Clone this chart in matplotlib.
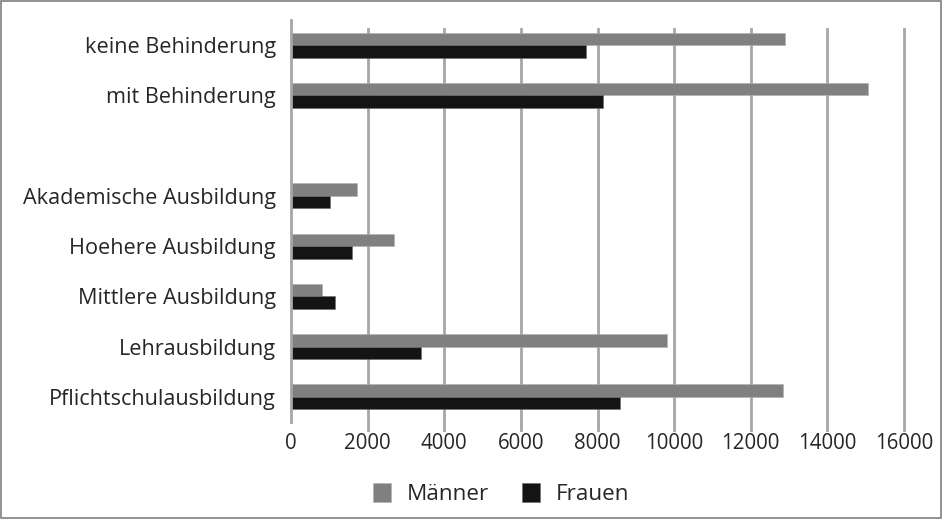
import matplotlib.pyplot as plt
import matplotlib.transforms as mtransforms
from matplotlib.patches import Rectangle
import numpy as np

plt.rcParams['font.family'] = ['Open Sans', 'DejaVu Sans']

# Kategorien von oben nach unten (leere Zeile als Trenner)
kategorien = ['keine Behinderung', 'mit Behinderung', '',
              'Akademische Ausbildung', 'Hoehere Ausbildung',
              'Mittlere Ausbildung', 'Lehrausbildung', 'Pflichtschulausbildung']
maenner = [12900, 15050, 0, 1720, 2700, 800, 9820, 12830]
frauen = [7710, 8150, 0, 1010, 1600, 1160, 3390, 8590]
x_ticks = [0, 2000, 4000, 6000, 8000, 10000, 12000, 14000, 16000]

fig = plt.figure(figsize=(9.42, 5.19), dpi=100)
ax = fig.add_axes([291/942, 1 - 422/519, 613/942, 402/519])

pos = np.arange(len(kategorien))
h = 0.25
ax.barh(pos - h/2, maenner, height=h, color='#808080', edgecolor='#b0b0b0',
        linewidth=0.4, label='Männer', zorder=3)
ax.barh(pos + h/2, frauen, height=h, color='#141414', edgecolor='#6a6a6a',
        linewidth=0.4, label='Frauen', zorder=3)

ax.set_xlim(0, 16000)
ax.set_ylim(len(kategorien) - 0.5, -0.5)
ax.set_yticks(pos)
ax.set_yticklabels(kategorien, fontsize=15.6, color='#262626')
ax.set_xticks(x_ticks)
ax.set_xticklabels([str(t) for t in x_ticks], fontsize=14.8, color='#262626')
ax.tick_params(axis='both', length=0)
ax.tick_params(axis='y', pad=11)
ax.tick_params(axis='x', pad=8)

for s in ['top', 'right', 'bottom']:
    ax.spines[s].set_visible(False)
ax.spines['left'].set_color('#a6a6a6')
ax.spines['left'].set_linewidth(2)
ax.spines['left'].set_zorder(4)

# Gitterlinien, leicht nach unten versetzt
trans = mtransforms.blended_transform_factory(ax.transData, ax.transAxes)
for t in x_ticks[1:]:
    ax.plot([t, t], [-0.02, 0.978], transform=trans, color='#a6a6a6',
            linewidth=2, clip_on=False, zorder=1)

leg = ax.legend(loc='center', bbox_to_anchor=(501/942, 1 - 494/519),
                bbox_transform=fig.transFigure, ncol=2, frameon=False,
                fontsize=16.2, handlelength=0.82, handleheight=0.9,
                handletextpad=0.7, columnspacing=1.45)
for txt in leg.get_texts():
    txt.set_color('#262626')

# Rahmen um die ganze Grafik
fig.patches.append(Rectangle((0.0008, 0.0012), 0.9984, 0.9976, transform=fig.transFigure,
                             fill=False, edgecolor='#7f7f7f', linewidth=1.2))

fig.savefig('out.png', dpi=100)
